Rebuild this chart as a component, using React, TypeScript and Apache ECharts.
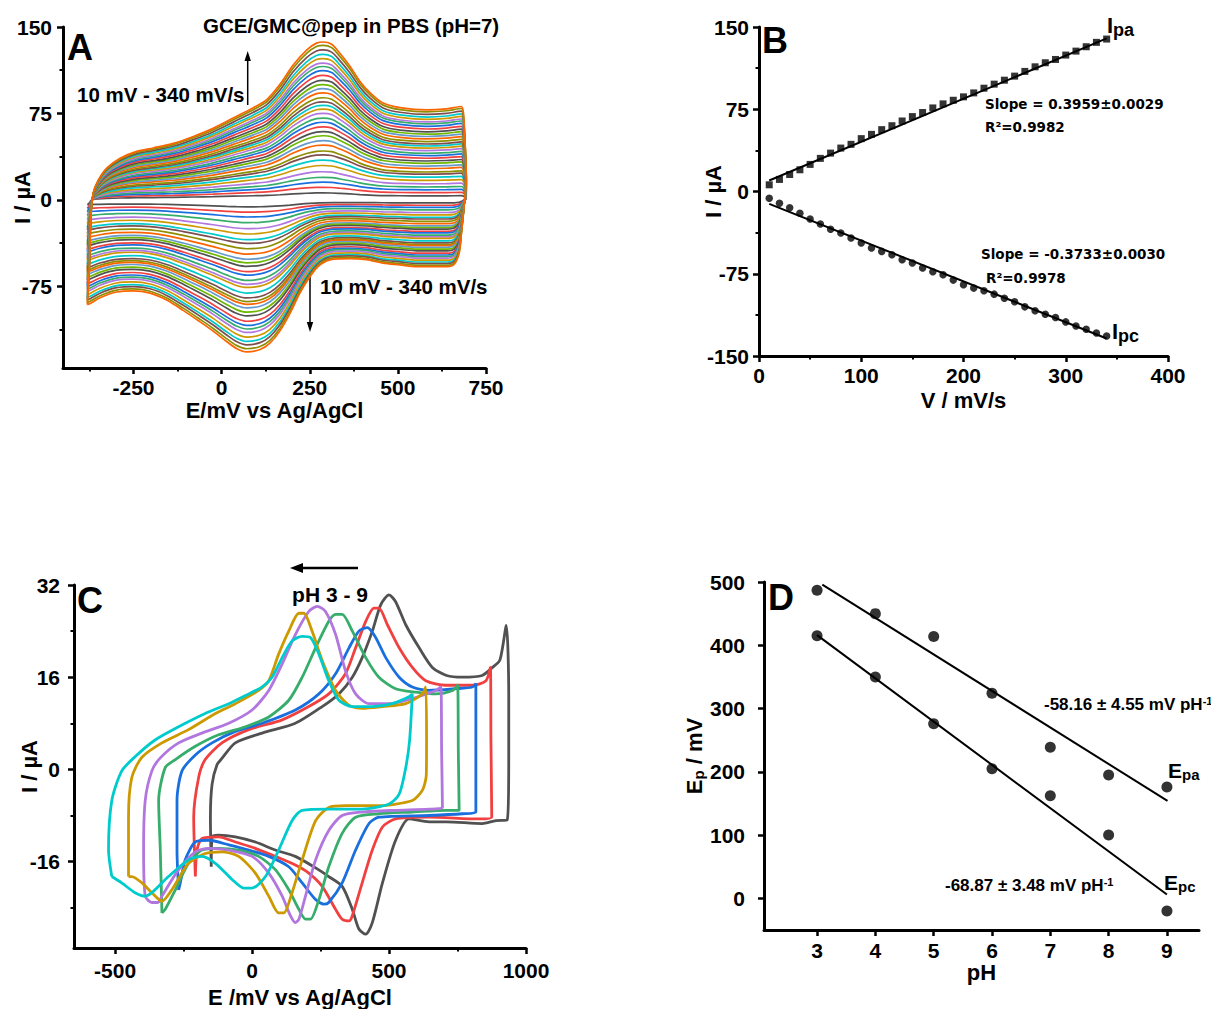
import React, { useEffect, useRef } from 'react';
import * as echarts from 'echarts';

const FONT = '"Liberation Sans", Arial, Helvetica, sans-serif';
const WIDE = '"DejaVu Sans", Verdana, sans-serif';
const ORIGIN = ['#515151', '#F14040', '#1A6FDF', '#37AD6B', '#B177DE', '#CC9900', '#00CBCC', '#7D4E4E', '#8E8E00', '#FB6501', '#6699CC', '#6FB802'];

// ---------- Panel B data (scan rate study) ----------
const scanRates = [10, 20, 30, 40, 50, 60, 70, 80, 90, 100, 110, 120, 130, 140, 150, 160, 170, 180, 190, 200, 210, 220, 230, 240, 250, 260, 270, 280, 290, 300, 310, 320, 330, 340];
const ipa = [6.1, 11, 15.5, 19.8, 24.7, 30.2, 35, 39.6, 43, 48.2, 52.1, 56.4, 60, 64.3, 68.3, 72, 76.2, 79.9, 83.2, 86.3, 89.9, 94.2, 97.9, 101.5, 105.2, 109.5, 113.7, 117.4, 120.4, 124.4, 128, 132, 136, 139];
const ipc = [-6.1, -10.7, -14.9, -19.8, -25, -29.6, -34.5, -37.8, -42.4, -47, -51.5, -54.6, -57.6, -62.2, -65.2, -69.8, -73.2, -75.9, -80.8, -85, -88.1, -90.5, -93.6, -97.3, -100.6, -105.2, -108.8, -111.9, -114.9, -118.9, -122.6, -125.6, -129, -131.7];
const ipaFit = [[10, 10], [340, 139.6]];
const ipcFit = [[10, -11.3], [340, -134]];

// ---------- Panel A data: CV at 340 mV/s (outermost loop), E (mV), I (uA) ----------
const cvA340 = [
  [-381, -91], [-375, -58], [-371, -15], [-364, 6], [-350, 17], [-326, 27.5], [-288, 36], [-241, 42], [-194, 45], [-137, 49],
  [-80, 55], [-24, 62], [33, 71], [90, 80], [128, 87], [165, 100], [203, 117], [241, 130], [269, 136], [288, 137],
  [312, 135], [336, 127], [364, 116], [392, 103], [421, 93], [458, 84], [506, 80], [581, 78], [638, 79], [680, 81],
  [687, 70], [692, 40], [694, 20], [688, -5], [680, -30], [674, -46], [660, -56], [640, -58],
  [600, -58], [553, -58], [506, -56.5], [458, -55], [411, -52], [364, -51], [317, -51.5], [279, -56.5], [250, -67], [222, -81],
  [194, -98.5], [165, -114], [137, -124.5], [109, -130], [71, -132], [42, -129], [14, -123], [-24, -114], [-61, -106], [-109, -96],
  [-156, -87], [-203, -81], [-250, -79], [-298, -80], [-345, -85], [-373, -90], [-381, -91],
];

// ---------- Panel C data: CVs at pH 3..9 ----------
const phLabels = ['pH 3', 'pH 4', 'pH 5', 'pH 6', 'pH 7', 'pH 8', 'pH 9'];
const cvPh3 = [[-149, -16.9], [-152, -8.3], [-146, -2.6], [-128, 0.8], [-110, 1.9], [-61, 4.6], [37, 6.3], [158, 8], [256, 10.9], [317, 13.1], [366, 16], [402, 19.4], [439, 24], [470, 28.6], [500, 30.3], [524, 29.1], [561, 25.1], [610, 21.1], [658, 17.7], [710, 16.3], [768, 16], [840, 16.3], [878, 17.7], [905, 19], [928, 25], [937, 13], [937, 1.6], [931, -8.8], [890, -8.9], [840, -9.4], [710, -9.1], [646, -9.1], [573, -8.6], [524, -12.3], [476, -19.7], [439, -26.6], [415, -28.6], [390, -27.7], [366, -24.3], [329, -20.3], [280, -18.6], [232, -17.1], [158, -15.1], [85, -14], [12, -12.6], [-61, -11.7], [-122, -11.4], [-146, -11.7], [-149, -16.9]];
const cvPh4 = [[-207, -18.6], [-213, -8.3], [-195, -1.4], [-171, 1.7], [-110, 4.6], [-12, 6.9], [110, 8.6], [207, 10.9], [280, 13.1], [341, 16.6], [378, 21.1], [415, 25.7], [445, 28], [463, 28], [494, 25.1], [537, 21.1], [585, 17.7], [634, 15.4], [707, 14.6], [805, 14.6], [854, 15.4], [870, 17.7], [872, 5], [875, -8.3], [829, -8.6], [646, -8.3], [524, -8.6], [476, -10], [439, -14], [402, -19.7], [366, -25.4], [354, -26.3], [329, -26], [305, -24.3], [256, -20.3], [207, -18], [158, -16.6], [85, -15.1], [12, -13.7], [-61, -12.6], [-122, -11.7], [-183, -12], [-201, -14], [-207, -18.6]];
const cvPh5 = [[-268, -20.9], [-274, -14], [-274, -5.4], [-256, -0.3], [-207, 2.5], [-146, 4.6], [-61, 6.6], [37, 8], [158, 10.3], [244, 13.1], [305, 16.6], [354, 21.1], [390, 24], [421, 24.6], [451, 22.9], [488, 19.4], [537, 16], [585, 14.3], [646, 13.7], [744, 14], [805, 14.3], [817, 14.9], [817, 3], [817, -7.4], [768, -7.7], [646, -8], [463, -8.3], [427, -9.4], [378, -14], [329, -19.7], [280, -23.1], [262, -23.4], [232, -22.6], [183, -19.7], [134, -16.9], [61, -15.1], [-12, -14], [-85, -13.1], [-158, -12.3], [-207, -12.6], [-244, -15.7], [-262, -19.7], [-268, -20.9]];
const cvPh6 = [[-329, -24.9], [-335, -14], [-341, -5.4], [-317, 0.3], [-280, 1.7], [-207, 4], [-122, 6], [-24, 7.4], [61, 9.1], [134, 12], [183, 16], [232, 21.1], [280, 25.7], [305, 26.9], [329, 26.9], [366, 24], [415, 19.4], [463, 16], [524, 14], [598, 13.4], [671, 13.1], [732, 13.7], [750, 14.6], [753, 3], [756, -7.1], [707, -7.1], [585, -7.4], [463, -7.7], [378, -8.3], [329, -11.1], [280, -16.9], [244, -22.6], [213, -26], [195, -26], [171, -24.3], [134, -20.9], [85, -17.4], [24, -15.1], [-49, -14], [-122, -13.7], [-183, -14], [-232, -16.3], [-280, -20.9], [-317, -24.3], [-329, -24.9]];
const cvPh7 = [[-341, -23.1], [-366, -23.1], [-390, -22], [-396, -14], [-390, -5.4], [-366, -0.3], [-335, 2], [-268, 4.6], [-183, 6.3], [-85, 8], [0, 10.3], [61, 13.7], [110, 18.3], [158, 23.4], [207, 27.4], [238, 28.3], [268, 27.4], [305, 23.4], [341, 17.1], [378, 13.1], [427, 11.4], [500, 11.4], [585, 12.3], [671, 13.7], [689, 14.3], [692, 3], [695, -6.6], [646, -6.9], [524, -7.1], [402, -7.4], [329, -8], [280, -10.6], [232, -15.7], [195, -22], [171, -26], [158, -26.6], [140, -25.4], [110, -22], [61, -18], [0, -15.1], [-85, -14], [-158, -13.7], [-207, -14.3], [-268, -17.4], [-329, -22], [-341, -23.1]];
const cvPh8 = [[-451, -18.6], [-451, -8.3], [-439, -1.4], [-402, 2.1], [-329, 4.6], [-232, 6.9], [-134, 9.7], [-61, 11.4], [24, 13.7], [61, 15.4], [97, 20], [134, 24], [171, 27.1], [189, 27.1], [219, 24], [256, 18.9], [305, 13.7], [354, 11.1], [402, 10.6], [476, 10.9], [561, 11.4], [622, 13.1], [634, 14.3], [637, 5], [636, -1], [622, -3.6], [585, -5.4], [463, -6.3], [341, -6.3], [280, -6.6], [232, -8.9], [183, -15.7], [146, -21.4], [116, -24.9], [97, -24.9], [61, -22], [12, -18], [-49, -15.1], [-110, -14.3], [-171, -14.6], [-232, -16.3], [-293, -20.9], [-329, -22.9], [-366, -21.4], [-402, -19.7], [-439, -18.6], [-451, -18.6]];
const cvPh9 = [[-512, -18.6], [-524, -14], [-512, -5.4], [-476, -0.3], [-427, 2.2], [-354, 5.1], [-268, 7.4], [-171, 9.7], [-85, 11.4], [-12, 13.1], [37, 14.3], [73, 16], [110, 19.4], [146, 22.3], [183, 23.1], [213, 22.9], [244, 20], [280, 15.4], [317, 12], [366, 10.9], [439, 10.9], [512, 11.4], [573, 12.6], [585, 13.1], [575, 5], [561, 0.3], [537, -4.3], [500, -6], [402, -6.9], [280, -6.9], [183, -7.1], [146, -8.9], [97, -14], [49, -18.6], [0, -20.6], [-30, -20.6], [-73, -19.1], [-134, -16.3], [-183, -15.1], [-232, -15.7], [-305, -18.6], [-366, -21.4], [-390, -22], [-427, -21.4], [-476, -19.7], [-512, -18.6]];
const cvPhCurves = [cvPh3, cvPh4, cvPh5, cvPh6, cvPh7, cvPh8, cvPh9];

// ---------- Panel D data ----------
const phValues = [3, 4, 5, 6, 7, 8, 9];
const epa = [487, 450, 414, 324, 239, 195, 176];
const epc = [415, 350, 276, 205, 162, 100, -20];
const epaFit = [[3.09, 496], [9.01, 154]];
const epcFit = [[3, 416], [9, 6]];

// ---------- tick labels ----------
const ticksAx = [-250, 0, 250, 500, 750];
const minorAx = [-375, -125, 125, 375, 625];
const ticksAy = [-75, 0, 75, 150];
const minorAy = [-112.5, -37.5, 37.5, 112.5];
const ticksBx = [0, 100, 200, 300, 400];
const minorBx = [50, 150, 250, 350];
const ticksBy = [-150, -75, 0, 75, 150];
const minorBy = [-112.5, -37.5, 37.5, 112.5];
const ticksCx = [-500, 0, 500, 1000];
const minorCx = [-250, 250, 750];
const ticksCy = [-16, 0, 16, 32];
const minorCy = [-24, -8, 8, 24];
const ticksDx = [3, 4, 5, 6, 7, 8, 9];
const ticksDy = [0, 100, 200, 300, 400, 500];

const nameStyle = {
  fontSize: 22, fontWeight: 'bold', color: '#000', fontFamily: FONT,
  rich: {
    a: { fontSize: 22, fontWeight: 'bold', color: '#000', fontFamily: FONT },
    s: { fontSize: 15, fontWeight: 'bold', color: '#000', fontFamily: FONT, verticalAlign: 'bottom', padding: [8, 0, 0, 0] },
  },
};

function mainAxis(kind: 'x' | 'y', grid: number, min: number, max: number, ticks: number[], name: string, nameGap: number, margin: number) {
  return {
    type: 'value', gridIndex: grid, min, max,
    position: kind === 'x' ? 'bottom' : 'left',
    axisLine: { show: true, onZero: false, lineStyle: { color: '#000', width: 3 } },
    axisTick: { show: true, customValues: ticks, length: 6, lineStyle: { color: '#000', width: 2.5 } },
    axisLabel: {
      show: true, customValues: ticks, margin, fontSize: 21, fontWeight: 'bold', color: '#000', fontFamily: FONT,
      formatter: (v: number) => String(v),
    },
    splitLine: { show: false },
    name, nameLocation: 'middle', nameGap, nameMoveOverlap: false,
    nameTextStyle: nameStyle,
  };
}
function minorAxis(kind: 'x' | 'y', grid: number, min: number, max: number, ticks: number[]) {
  return {
    type: 'value', gridIndex: grid, min, max,
    position: kind === 'x' ? 'bottom' : 'left',
    axisLine: { show: false, onZero: false },
    axisTick: { show: true, customValues: ticks, length: 3.5, lineStyle: { color: '#000', width: 2 } },
    axisLabel: { show: false },
    splitLine: { show: false },
  };
}

const txt = (text: string, x: number, y: number, size: number, align = 'left', family = FONT) => ({
  type: 'text', x, y, silent: true,
  style: { text, fill: '#000', font: `bold ${size}px ${family}`, textAlign: align, textVerticalAlign: 'middle' },
});
const richTxt = (text: string, x: number, y: number, rich: any) => ({
  type: 'text', x, y, silent: true,
  style: { text, fill: '#000', textAlign: 'left', textVerticalAlign: 'middle', rich },
});
const big = (s: number) => ({ fontSize: s, fontWeight: 'bold', fontFamily: FONT, color: '#000' });

function buildOption() {
  const seriesA = scanRates.map((_, k) => ({
    type: 'line', xAxisIndex: 0, yAxisIndex: 0, showSymbol: false, symbol: 'none', silent: true,
    smooth: 0.3,
    lineStyle: { width: 1.7, color: ORIGIN[k % ORIGIN.length] },
    data: cvA340.map(([e, i]) => [e, i >= 0 ? (i * ipa[k]) / ipa[ipa.length - 1] : (i * ipc[k]) / ipc[ipc.length - 1]]),
  }));
  const seriesB = [
    { type: 'line', xAxisIndex: 1, yAxisIndex: 1, data: ipaFit, symbol: 'none', lineStyle: { color: '#000', width: 2 } },
    { type: 'line', xAxisIndex: 1, yAxisIndex: 1, data: ipcFit, symbol: 'none', lineStyle: { color: '#000', width: 2 } },
    { type: 'scatter', xAxisIndex: 1, yAxisIndex: 1, symbol: 'rect', symbolSize: 7, itemStyle: { color: '#000' }, data: scanRates.map((v, i) => [v, ipa[i]]) },
    { type: 'scatter', xAxisIndex: 1, yAxisIndex: 1, symbol: 'circle', symbolSize: 7.5, itemStyle: { color: '#000' }, data: scanRates.map((v, i) => [v, ipc[i]]) },
  ];
  const seriesC = cvPhCurves.map((d, k) => ({
    type: 'line', name: phLabels[k], xAxisIndex: 2, yAxisIndex: 2, showSymbol: false, symbol: 'none', silent: true,
    smooth: 0.25,
    lineStyle: { width: 2.8, color: ORIGIN[k] },
    data: d,
  }));
  const seriesD = [
    { type: 'line', xAxisIndex: 3, yAxisIndex: 3, data: epaFit, symbol: 'none', lineStyle: { color: '#000', width: 2 } },
    { type: 'line', xAxisIndex: 3, yAxisIndex: 3, data: epcFit, symbol: 'none', lineStyle: { color: '#000', width: 2 } },
    { type: 'scatter', xAxisIndex: 3, yAxisIndex: 3, symbolSize: 11, itemStyle: { color: '#000' }, data: phValues.map((p, i) => [p, epa[i]]) },
    { type: 'scatter', xAxisIndex: 3, yAxisIndex: 3, symbolSize: 11, itemStyle: { color: '#000' }, data: phValues.map((p, i) => [p, epc[i]]) },
  ];

  const graphic = [
    // Panel A
    txt('A', 67, 47, 36),
    txt('GCE/GMC@pep in PBS (pH=7)', 203, 25, 20.5),
    txt('10 mV - 340 mV/s', 77, 94, 20.5),
    txt('10 mV - 340 mV/s', 320, 286, 20.5),
    { type: 'line', silent: true, shape: { x1: 247.7, y1: 105, x2: 247.7, y2: 58 }, style: { stroke: '#000', lineWidth: 1.5 } },
    { type: 'polygon', silent: true, shape: { points: [[247.7, 51], [244.5, 61], [250.9, 61]] }, style: { fill: '#000' } },
    { type: 'line', silent: true, shape: { x1: 310, y1: 275, x2: 310, y2: 325 }, style: { stroke: '#000', lineWidth: 1.5 } },
    { type: 'polygon', silent: true, shape: { points: [[310, 332], [306.8, 322], [313.2, 322]] }, style: { fill: '#000' } },
    // Panel B
    txt('B', 762, 40, 36),
    txt('Slope = 0.3959±0.0029', 985, 104, 13.5, 'left', WIDE),
    txt('R²=0.9982', 985, 127, 13.5, 'left', WIDE),
    txt('Slope = -0.3733±0.0030', 981, 254, 13.5, 'left', WIDE),
    txt('R²=0.9978', 986, 278, 13.5, 'left', WIDE),
    richTxt('{i|I}{s|pa}', 1107, 25, { i: big(22), s: { ...big(18), verticalAlign: 'bottom', padding: [10, 0, 0, 0] } }),
    richTxt('{i|I}{s|pc}', 1112, 331, { i: big(22), s: { ...big(18), verticalAlign: 'bottom', padding: [10, 0, 0, 0] } }),
    // Panel C
    txt('C', 77, 600, 36),
    txt('pH 3 - 9', 330, 594, 21, 'center'),
    { type: 'line', silent: true, shape: { x1: 358, y1: 568, x2: 300, y2: 568 }, style: { stroke: '#000', lineWidth: 2.5 } },
    { type: 'polygon', silent: true, shape: { points: [[290, 568], [303, 563], [303, 573]] }, style: { fill: '#000' } },
    // Panel D
    txt('D', 768, 597, 36),
    richTxt('{t|-58.16 ± 4.55 mV pH}{u|-1}', 1044, 704, { t: big(17), u: { ...big(11), verticalAlign: 'top' } }),
    richTxt('{t|-68.87 ± 3.48 mV pH}{u|-1}', 945, 885, { t: big(17), u: { ...big(11), verticalAlign: 'top' } }),
    richTxt('{i|E}{s|pa}', 1168, 770, { i: big(21), s: { ...big(15), verticalAlign: 'bottom', padding: [9, 0, 0, 0] } }),
    richTxt('{i|E}{s|pc}', 1164, 882, { i: big(21), s: { ...big(15), verticalAlign: 'bottom', padding: [9, 0, 0, 0] } }),
  ];

  const gridBase = { containLabel: false, outerBoundsMode: 'none' };
  return {
    animation: false,
    backgroundColor: '#fff',
    textStyle: { fontFamily: FONT },
    grid: [
      { ...gridBase, left: 63, top: 27, width: 423, height: 341 },
      { ...gridBase, left: 759, top: 27, width: 409, height: 329 },
      { ...gridBase, left: 74, top: 585, width: 452, height: 363 },
      { ...gridBase, left: 764, top: 582, width: 435, height: 348 },
    ],
    xAxis: [
      mainAxis('x', 0, -450, 750, ticksAx, 'E/mV vs Ag/AgCl', 31, 9),
      mainAxis('x', 1, 0, 400, ticksBx, 'V / mV/s', 33, 9),
      mainAxis('x', 2, -650, 1000, ticksCx, 'E /mV vs Ag/AgCl', 38, 12),
      mainAxis('x', 3, 2.09, 9.55, ticksDx, 'pH', 31, 10),
      minorAxis('x', 0, -450, 750, minorAx),
      minorAxis('x', 1, 0, 400, minorBx),
      minorAxis('x', 2, -650, 1000, minorCx),
    ],
    yAxis: [
      mainAxis('y', 0, -146, 150, ticksAy, 'I / µA', 30, 11),
      mainAxis('y', 1, -150, 150, ticksBy, 'I / µA', 35, 10),
      mainAxis('y', 2, -31, 32, ticksCy, 'I / µA', 34, 14),
      mainAxis('y', 3, -50, 500, ticksDy, '{a|E}{s|p}{a| / mV}', 58, 19),
      minorAxis('y', 0, -146, 150, minorAy),
      minorAxis('y', 1, -150, 150, minorBy),
      minorAxis('y', 2, -31, 32, minorCy),
    ],
    series: [...seriesA, ...seriesB, ...seriesC, ...seriesD],
    graphic,
  };
}

export default function App() {
  const ref = useRef<HTMLDivElement>(null);
  useEffect(() => {
    if (!ref.current) return;
    const chart = echarts.init(ref.current, null, { renderer: 'svg' });
    chart.setOption(buildOption() as any);
    return () => chart.dispose();
  }, []);
  return <div ref={ref} style={{ position: 'absolute', left: 0, top: 0, width: 1211, height: 1009, background: '#fff' }} />;
}
